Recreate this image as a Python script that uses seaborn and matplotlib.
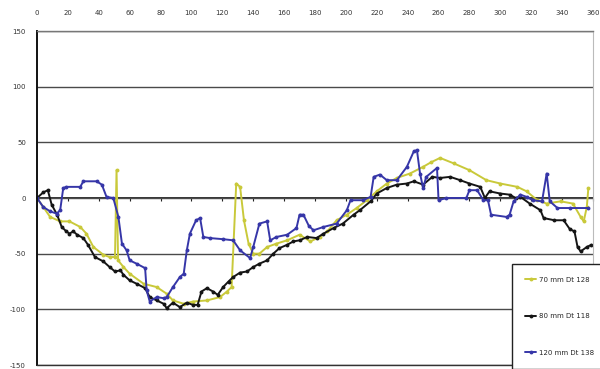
import matplotlib
matplotlib.use("Agg")
import matplotlib.pyplot as plt
import numpy as np
import pandas as pd
import seaborn as sns

# Series labels
series_names = ["70 mm Dt 128", "80 mm Dt 118", "120 mm Dt 138"]

# 70 mm Dt 128
x_70 = [0, 4, 8.5, 15, 21, 28, 32, 36.5, 43, 47, 50.5, 51.5, 52.5, 56, 60, 69, 77.5, 84, 88,
        95, 101, 110, 118.5, 123, 126, 129, 131.5, 134, 137, 140, 144, 149, 155, 162, 170,
        177, 183, 188, 194, 200.6, 207, 213.5, 220, 226.5, 233, 241.5, 250, 255, 261, 270,
        280, 291, 300, 311, 317, 324, 330, 339, 347, 352, 354, 356, 357]
y_70 = [0, -8, -17, -21, -21, -26, -32, -44, -51, -53, -53, 25, -56, -62, -68, -77, -80, -86, -92,
        -95, -93, -92, -89, -84, -80, 13, 10, -20, -41, -50, -50, -44, -41, -38, -33,
        -39, -35, -30, -20, -15, -9, -2, 6, 13, 18, 22, 28, 32, 36, 31,
        25, 16, 13, 10, 6, -2, -5, -3, -5, -17, -21, -8, 9]

# 80 mm Dt 118
x_80 = [0, 4, 7, 9.5, 13, 16, 19, 21, 23.5, 26, 30, 33, 37.5, 43, 47, 50.5, 54, 56, 60, 64.5,
        70, 73, 77.5, 82, 84, 88, 92.5, 97, 101, 104, 106.5, 110, 114, 117, 120.5, 124, 127,
        131.5, 136, 140, 144, 149, 153, 157, 162, 166, 170, 175, 181, 185.5, 192, 198, 205,
        209, 216, 220, 226.5, 233, 239.5, 244, 250, 256, 261, 267.5, 274, 280, 287, 290, 293,
        300, 306, 310, 313, 319, 326, 328, 335, 341, 345, 348, 350, 352, 356, 359]
y_80 = [0, 5, 7, -6, -15, -26, -30, -32, -30, -33, -36, -42, -53, -57, -62, -66, -65, -69, -74, -77,
        -81, -89, -92, -95, -99, -94, -98, -94, -96, -96, -84, -81, -84, -87, -80, -75, -71,
        -67, -66, -62, -59, -56, -50, -45, -42, -39, -38, -35, -36, -32, -27, -23, -15,
        -11, -3, 4, 9, 12, 13, 15, 12, 19, 18, 19, 16, 13, 10, 0, 6,
        4, 3, 0, 1, -5, -11, -18, -20, -20, -28, -30, -44, -48, -44, -42]

# 120 mm Dt 138
x_120 = [0, 4, 8.5, 12.7, 15, 17, 19, 28, 30, 38.6, 42, 45, 49.4, 52.7, 55, 58, 60, 64.5, 70, 71,
         73, 77.5, 82, 84, 88, 92.5, 95, 97, 99, 103, 105.6, 107.7, 112, 120.6, 127, 131.5,
         138, 140, 144, 149, 151, 155, 162, 168, 170, 172.5, 176, 179, 185.5, 194, 200.6, 203,
         211, 216, 218, 222, 226.5, 233, 239.5, 244, 246, 248, 250, 252, 259, 260, 265, 278,
         280, 285, 289, 292, 294, 304, 306, 308.6, 313, 317, 321, 327, 330, 332, 337, 345, 357]
y_120 = [0, -8, -12, -14, -11, 9, 10, 10, 15, 15, 12, 1, 0, -17, -41, -47, -56, -59, -63, -83,
         -93, -89, -90, -89, -80, -71, -68, -47, -32, -20, -18, -35, -36, -37, -38, -47,
         -54, -44, -23, -21, -38, -35, -33, -27, -15, -15, -25, -29, -26, -23, -11, -2,
         -2, 1, 19, 21, 16, 16, 28, 42, 43, 22, 9, 19, 27, -2, 0, 0,
         7, 7, -2, -2, -15, -17, -15, -3, 3, 1, -2, -3, 22, -3, -9, -9, -9]

x_ticks = list(range(0, 361, 20))
y_ticks = [-150, -100, -50, 0, 50, 100, 150]

colors = {"70 mm Dt 128": "#c9c93a", "80 mm Dt 118": "#151515", "120 mm Dt 138": "#3636a8"}

frames = []
for name, xs, ys in zip(series_names, [x_70, x_80, x_120], [y_70, y_80, y_120]):
    frames.append(pd.DataFrame({"pos": xs, "val": ys, "series": name}))
df = pd.concat(frames, ignore_index=True)

sns.set_style("white")
plt.rcParams["font.family"] = ["DejaVu Sans"]

fig = plt.figure(figsize=(6.0, 3.69), dpi=100)
ax = fig.add_axes([37 / 600, 1 - 365 / 369, (593 - 37) / 600, (365 - 31) / 369])

# category axis crossing at zero, with short tick marks (drawn underneath)
ax0 = ax.twiny()

sns.lineplot(data=df, x="pos", y="val", hue="series", hue_order=series_names,
             palette=colors, estimator=None, sort=False, marker="o", markersize=2.8,
             markeredgewidth=0, linewidth=1.4, ax=ax)

ax.set_xlim(0, 360)
ax.set_ylim(-150, 150)
ax.set_xlabel("")
ax.set_ylabel("")

# horizontal grid at each y tick
ax.set_yticks(y_ticks)
ax.set_yticklabels([str(v) for v in y_ticks])
ax.yaxis.grid(True, color="#4a4a4a", linewidth=1.0)
ax.xaxis.grid(False)
ax.tick_params(axis="y", length=0, pad=8, labelsize=5, labelcolor="#333333")

# x tick labels along the top edge
ax.set_xticks(x_ticks)
ax.set_xticklabels([str(v) for v in x_ticks])
ax.xaxis.set_ticks_position("top")
ax.xaxis.set_label_position("top")
ax.tick_params(axis="x", length=0, pad=11, labelsize=5, labelcolor="#333333",
               labeltop=True, labelbottom=False)

ax.spines["left"].set_color("#111111")
ax.spines["left"].set_linewidth(1.4)
ax.spines["bottom"].set_color("#333333")
ax.spines["bottom"].set_linewidth(1.0)
ax.spines["top"].set_color("#777777")
ax.spines["top"].set_linewidth(1.0)
ax.spines["right"].set_color("#bbbbbb")
ax.spines["right"].set_linewidth(0.8)

ax0.set_xlim(0, 360)
ax0.set_xticks(x_ticks)
ax0.xaxis.set_ticks_position("bottom")
ax0.spines["bottom"].set_position(("data", 0))
ax0.spines["bottom"].set_color("#222222")
ax0.spines["bottom"].set_linewidth(1.3)
for s in ["top", "left", "right"]:
    ax0.spines[s].set_visible(False)
ax0.tick_params(axis="x", direction="out", length=2.5, width=0.8, color="#222222",
                labelbottom=False, labeltop=False)
ax0.set_zorder(ax.get_zorder() - 1)
ax.patch.set_visible(False)

handles, labels = ax.get_legend_handles_labels()
ax.legend(handles, labels, loc="lower left", bbox_to_anchor=(512 / 600, 0.0),
          bbox_transform=fig.transFigure, fontsize=5, frameon=True, fancybox=False,
          edgecolor="#222222", framealpha=1.0, labelspacing=4.4, borderpad=1.9,
          handlelength=1.6, handletextpad=0.4, borderaxespad=0.0)
leg = ax.get_legend()
leg.get_frame().set_linewidth(1.0)

fig.savefig("out.png", dpi=100)
